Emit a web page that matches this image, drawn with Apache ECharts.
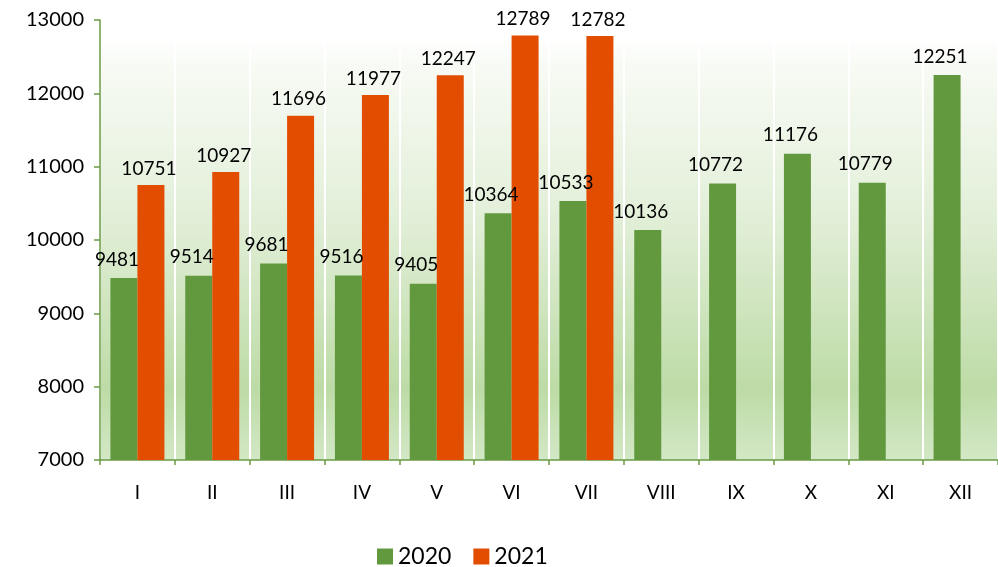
<!DOCTYPE html>
<html>
<head>
<meta charset="utf-8">
<script src="https://cdn.jsdelivr.net/npm/echarts@6/dist/echarts.min.js"></script>
<style>
html,body{margin:0;padding:0;background:#fff;}
#chart{width:998px;height:567px;}
</style>
</head>
<body>
<div id="chart"></div>
<script>
var categories = ['I','II','III','IV','V','VI','VII','VIII','IX','X','XI','XII'];
var values2020 = [9481, 9514, 9681, 9516, 9405, 10364, 10533, 10136, 10772, 11176, 10779, 12251];
var values2021 = [10751, 10927, 11696, 11977, 12247, 12789, 12782, null, null, null, null, null];
var yTicks = [7000, 8000, 9000, 10000, 11000, 12000, 13000];

var FONT = 'Lato';
var chart = echarts.init(document.getElementById('chart'));
chart.setOption({
  animation: false,
  textStyle: { fontFamily: FONT },
  grid: {
    left: 100, top: 20, width: 908, height: 440,
    show: true, borderWidth: 0,
    backgroundColor: new echarts.graphic.LinearGradient(0, 0, 0, 1, [
      { offset: 0, color: '#ffffff' },
      { offset: 0.04, color: '#ffffff' },
      { offset: 0.1, color: '#f8fbf5' },
      { offset: 0.45, color: '#e2efd8' },
      { offset: 0.84, color: '#bddba6' },
      { offset: 1, color: '#d3e8c6' }
    ])
  },
  legend: {
    left: 372, top: 540,
    itemWidth: 16, itemHeight: 16, itemGap: 22,
    icon: 'rect',
    textStyle: { fontFamily: FONT, fontSize: 23, color: '#000' },
    data: ['2020', '2021']
  },
  xAxis: {
    type: 'category',
    data: categories,
    axisLine: { lineStyle: { color: '#6a9a45', width: 1.5 } },
    axisTick: { show: true, length: 5, lineStyle: { color: '#6a9a45', width: 1.5 } },
    axisLabel: { color: '#000', fontSize: 19, margin: 23, fontFamily: FONT },
    splitLine: { show: true, lineStyle: { color: '#ffffff', width: 2 } }
  },
  yAxis: {
    type: 'value',
    min: yTicks[0], max: yTicks[yTicks.length - 1], interval: 1000,
    axisLine: { show: true, lineStyle: { color: '#6a9a45', width: 1.5 } },
    axisTick: { show: true, length: 6, lineStyle: { color: '#6a9a45', width: 1.5 } },
    axisLabel: { color: '#000', fontSize: 20, margin: 16, fontFamily: FONT,
      formatter: function (v) { return String(v); } },
    splitLine: { show: false }
  },
  series: [
    {
      name: '2020', type: 'bar', data: values2020,
      barWidth: 27, barGap: '0%',
      itemStyle: { color: '#62993f' },
      label: { show: true, position: 'top', offset: [-7, -4], color: '#000', fontSize: 19, fontFamily: FONT }
    },
    {
      name: '2021', type: 'bar', data: values2021,
      barWidth: 27, barGap: '0%',
      itemStyle: { color: '#e24d00' },
      label: { show: true, position: 'top', offset: [-2, -2], color: '#000', fontSize: 19, fontFamily: FONT }
    }
  ]
});
</script>
</body>
</html>
